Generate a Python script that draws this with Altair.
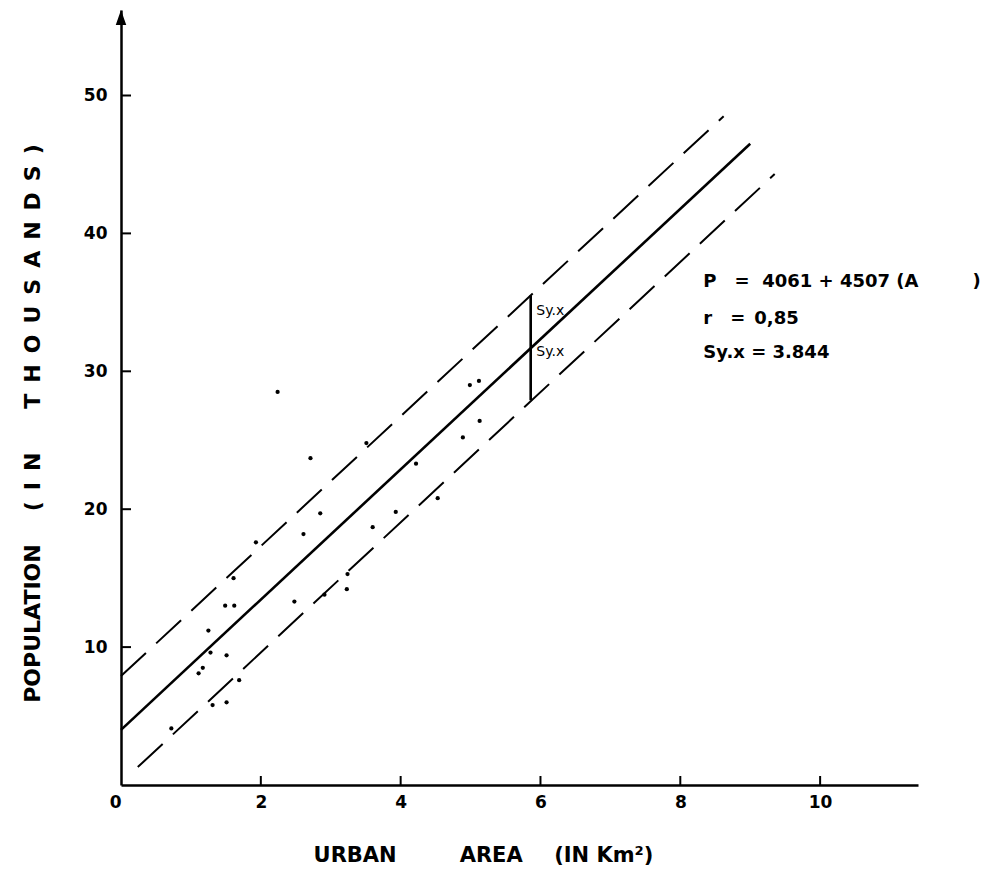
import altair as alt
import pandas as pd

# ---- data ----
area = [2.24, 2.71, 3.51, 4.22, 4.53, 3.93, 3.60, 2.85, 2.61, 1.93,
        3.24, 3.23, 2.91, 2.48, 1.61, 1.49, 1.62, 1.25, 1.28, 1.51,
        1.17, 1.11, 1.69, 1.31, 1.51, 0.72, 4.99, 5.12, 5.13, 4.89]
population = [28.5, 23.7, 24.8, 23.3, 20.8, 19.8, 18.7, 19.7, 18.2, 17.6,
              15.3, 14.2, 13.8, 13.3, 15.0, 13.0, 13.0, 11.2, 9.6, 9.4,
              8.5, 8.1, 7.6, 5.8, 6.0, 4.1, 29.0, 29.3, 26.4, 25.2]

fit_a = [0.0, 9.0]
fit_p = [4.0, 46.5]
upper_a = [0.0, 8.62]
upper_p = [7.9, 48.5]
lower_a = [0.24, 9.35]
lower_p = [1.3, 44.3]

syx_a = [5.86]
syx_p_low = [27.9]
syx_p_high = [35.5]

x_ticks = [0, 2, 4, 6, 8, 10]
y_ticks = [10, 20, 30, 40, 50]
x_inner_ticks = [2, 4, 6, 8, 10]

EN = "\u2002"
NB = "\u00a0"

syx_labels = ["Sy.x", "Sy.x"]
syx_label_a = [5.94, 5.94]
syx_label_p = [34.4, 31.4]

eq_lines = [
    "P" + EN + EN + "=" + NB + NB + "4061" + NB + "+" + NB + "4507" + NB + "(A" + EN * 6 + ")",
    "r" + EN + EN + "=" + EN + "0,85",
    "Sy.x" + NB + "=" + NB + "3.844",
]
eq_a = [8.33, 8.33, 8.33]
eq_p = [36.45, 33.8, 31.3]

x_title = "URBAN" + EN * 6 + "AREA" + EN * 3 + "(IN" + NB + "Km²)"
y_title = ("POPULATION" + EN * 3 + "(" + EN + "I" + EN + "N" + EN * 4
           + EN.join(list("THOUSANDS")) + EN + ")")

x_max = 11.4
y_max = 56.2

W, H = 797, 775
FONT = "DejaVu Sans"

pts = pd.DataFrame({"A": area, "P": population})
lines = pd.DataFrame({
    "A": fit_a + upper_a + lower_a,
    "P": fit_p + upper_p + lower_p,
    "s": ["fit"] * 2 + ["upper"] * 2 + ["lower"] * 2,
})
fit_df = lines[lines.s == "fit"]
band_df = lines[lines.s != "fit"]
syx_df = pd.DataFrame({"A": syx_a, "P": syx_p_low, "P2": syx_p_high})
syx_lab = pd.DataFrame({"A": syx_label_a, "P": syx_label_p, "t": syx_labels})
eq_df = pd.DataFrame({"A": eq_a, "P": eq_p, "t": eq_lines})
xt_df = pd.DataFrame({"A": x_inner_ticks})
yt_df = pd.DataFrame({"P": y_ticks})
arrow_df = pd.DataFrame({"A": [0.0], "P": [y_max]})

xs = alt.Scale(domain=[0, x_max], nice=False, zero=False)
ys = alt.Scale(domain=[0, y_max], nice=False, zero=False)

x_axis = alt.Axis(
    values=x_ticks, ticks=False, grid=False, domainWidth=2.5, domainColor="black",
    labelFont=FONT, labelFontSize=17, labelFontWeight="bold", labelColor="black",
    labelPadding=9,
    labelAlign={"condition": {"test": "datum.value == 0", "value": "right"}, "value": "center"},
    title=x_title, titleFont=FONT, titleFontSize=21,
    titleFontWeight="bold", titleColor="black", titleX=362, titleY=70,
    titleBaseline="middle",
)
y_axis = alt.Axis(
    values=y_ticks, ticks=False, grid=False, domainWidth=2.5, domainColor="black",
    labelFont=FONT, labelFontSize=17, labelFontWeight="bold", labelColor="black",
    labelPadding=14,
    title=y_title, titleFont=FONT, titleFontSize=22,
    titleFontWeight="bold", titleColor="black", titleX=-89, titleY=413,
    titleBaseline="middle", titleAngle=-90,
)

X = lambda: alt.X("A:Q", scale=xs, axis=x_axis)
Y = lambda: alt.Y("P:Q", scale=ys, axis=y_axis)

points = alt.Chart(pts).mark_point(filled=True, color="black", size=18, opacity=1).encode(x=X(), y=Y())

fit = alt.Chart(fit_df).mark_line(color="black", strokeWidth=2.6).encode(x=X(), y=Y())
band = alt.Chart(band_df).mark_line(color="black", strokeWidth=2, strokeDash=[34, 14]).encode(
    x=X(), y=Y(), detail="s:N")

syx = alt.Chart(syx_df).mark_rule(color="black", strokeWidth=2.6).encode(
    x=X(), y=Y(), y2="P2:Q")

syx_text = alt.Chart(syx_lab).mark_text(
    align="left", baseline="middle", font=FONT, fontSize=14, color="black"
).encode(x=X(), y=Y(), text="t:N")

eq_text = alt.Chart(eq_df).mark_text(
    align="left", baseline="middle", font=FONT, fontSize=18, fontWeight="bold", color="black"
).encode(x=X(), y=Y(), text="t:N")

xticks = alt.Chart(xt_df).mark_rule(color="black", strokeWidth=2).encode(
    x=X(), y=alt.value(H), y2=alt.value(H - 9))
yticks = alt.Chart(yt_df).mark_rule(color="black", strokeWidth=2).encode(
    y=Y(), x=alt.value(0), x2=alt.value(10))

arrow = alt.Chart(arrow_df).mark_point(
    filled=True, color="black", opacity=1, size=225, shape="M0,0L0.7,2L-0.7,2Z"
).encode(x=X(), y=Y())

chart = alt.layer(
    band, fit, syx, points, syx_text, eq_text, xticks, yticks, arrow
).properties(
    width=W, height=H,
    autosize=alt.AutoSizeParams(type="none"),
    padding={"left": 121, "top": 10, "right": 77, "bottom": 96},
    background="white",
).configure_view(stroke=None)

chart.save("out.html", embed_options={"renderer": "svg", "actions": False})
